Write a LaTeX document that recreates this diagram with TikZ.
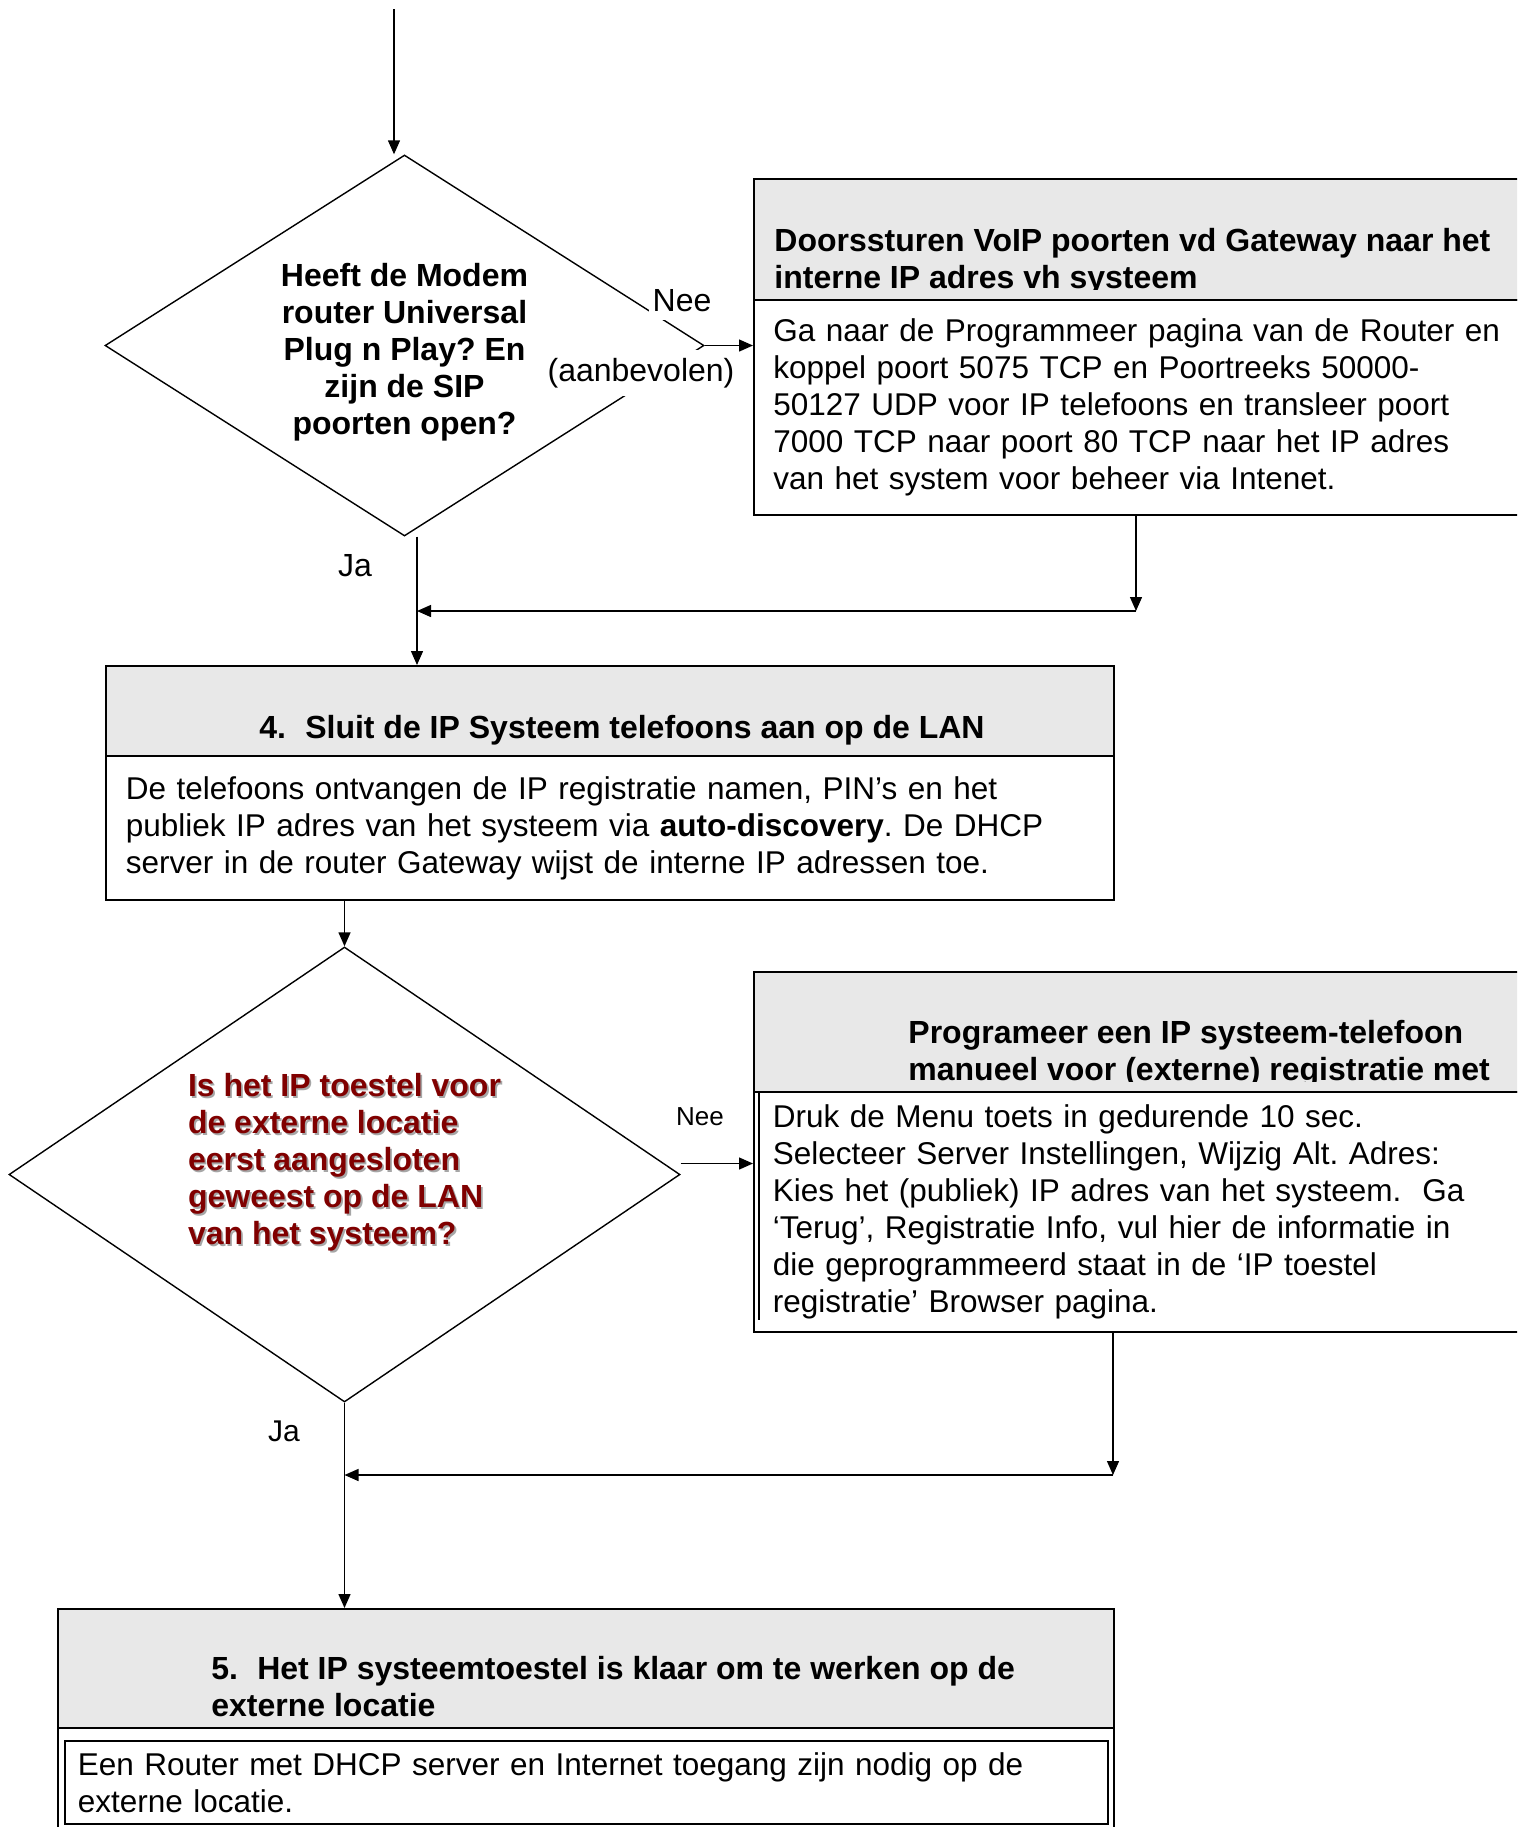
\documentclass[tikz,border=0pt]{standalone}
\usepackage{fontspec}
\setmainfont{Liberation Sans}
\usetikzlibrary{shapes.geometric,arrows.meta}
\definecolor{hdrgray}{gray}{0.91}
\definecolor{qred}{RGB}{128,0,0}
\newcommand{\shd}[1]{\makebox[0pt][l]{\hspace{0.9pt}\raisebox{-0.9pt}{\textcolor{black!35}{#1}}}#1}
\frenchspacing

\begin{document}
\begin{tikzpicture}[x=0.5pt,y=-0.5pt,
    >={Triangle[length=7pt,width=6pt]},
    every node/.style={font=\fontsize{15.75}{18.5}\selectfont},
    hdr/.style={draw,line width=0.9pt,fill=hdrgray,anchor=north west,inner sep=0pt},
    body/.style={draw,line width=0.9pt,anchor=north west,inner ysep=0pt,align=left},
    htext/.style={anchor=north west,inner sep=0pt,align=left,font=\fontsize{16}{18.5}\selectfont\bfseries},
    quest/.style={diamond,draw,line width=0.7pt,inner sep=0pt},
    qtext/.style={inner sep=0pt,font=\fontsize{16}{18.5}\selectfont\bfseries},
    lbl/.style={fill=white,inner xsep=2pt,inner ysep=4pt},
    flow/.style={->,line width=0.7pt}]

      \useasboundingbox (0,0) rectangle (1517,1827);
      \clip (0,0) rectangle (1517,1827);

      % modem / router question
      \coordinate (in) at (394,9);
      \node[quest,minimum width=299.5pt,minimum height=190.5pt] (q1) at (404.5,345.5) {};
      \node[qtext,align=center,yshift=-3.5pt] (q1t) at (q1)
        {Heeft de Modem\\router Universal\\Plug n Play? En\\zijn de SIP\\poorten open?};

      \node[hdr,minimum width=389.5pt,minimum height=60.5pt] (fwdh) at (753,178) {};
      \begin{scope}
        \clip (fwdh.north west) rectangle ([yshift=5.5pt]fwdh.south east);
        \node[htext] (fwdt) at (774,228) {Doorssturen VoIP poorten vd Gateway naar het\\interne IP adres vh systeem};
      \end{scope}
      \node[body,text width=370pt,inner xsep=9.75pt,minimum height=107.5pt] (fwdb) at (753,299)
        {Ga naar de Programmeer pagina van de Router en\\koppel poort 5075 TCP en Poortreeks 50000-\\50127 UDP voor IP telefoons en transleer poort\\7000 TCP naar poort 80 TCP naar het IP adres\\van het system voor beheer via Intenet.};

      % step 4
      \node[hdr,minimum width=504pt,minimum height=45pt] (lanh) at (105,665) {};
      \node[htext] (lant) at (259,715) {4.\hspace{0.6em}Sluit de IP Systeem telefoons aan op de LAN};
      \node[body,text width=484pt,inner xsep=10pt,minimum height=72pt] (lanb) at (105,755)
        {De telefoons ontvangen de IP registratie namen, PIN’s en het\\publiek IP adres van het systeem via \textbf{auto-discovery}. De DHCP\\server in de router Gateway wijst de interne IP adressen toe.};

      % external phone question
      \node[quest,minimum width=335.5pt,minimum height=227.5pt] (q2) at (344.5,1174.5) {};
      \node[qtext,align=left,text=qred,yshift=5.8pt] (q2t) at (q2)
        {\shd{Is het IP toestel voor}\\\shd{de externe locatie}\\\shd{eerst aangesloten}\\\shd{geweest op de LAN}\\\shd{van het systeem?}};

      \node[hdr,minimum width=393.5pt,minimum height=60pt] (progh) at (753,971) {};
      \begin{scope}
        \clip (progh.north west) rectangle ([yshift=5.5pt]progh.south east);
        \node[htext] (progt) at (908,1020) {Programeer een IP systeem-telefoon\\manueel voor (externe) registratie met};
      \end{scope}
      \node[body,text width=374.5pt,inner xsep=9.5pt,minimum height=120pt] (progb) at (753,1091)
        {Druk de Menu toets in gedurende 10 sec.\\Selecteer Server Instellingen, Wijzig Alt. Adres:\\Kies het (publiek) IP adres van het systeem.\ \ Ga\\‘Terug’, Registratie Info, vul hier de informatie in\\die geprogrammeerd staat in de ‘IP toestel\\registratie’ Browser pagina.};
      \draw[line width=0.7pt] ([xshift=3pt]progb.north west) -- ([xshift=3pt,yshift=-114.5pt]progb.north west);

      % step 5
      \node[hdr,minimum width=528pt,minimum height=59.5pt] (readyh) at (57,1608) {};
      \node[htext] (readyt) at (211,1656) {5.\hspace{0.6em}Het IP systeemtoestel is klaar om te werken op de\\externe locatie};
      \node[draw,line width=0.9pt,anchor=north west,minimum width=528pt,minimum height=70pt] (readyb) at (57,1727) {};
      \node[body,text width=508.5pt,inner xsep=6.5pt,minimum height=41.5pt] (readyi) at (64,1740)
        {Een Router met DHCP server en Internet toegang zijn nodig op de\\externe locatie.};

      % connectors
      \draw[flow] (in) -- (in |- q1.north);
      \draw[flow] (q1.east) -- (q1.east -| fwdb.west);
      \coordinate (jA) at (417,611);
      \coordinate (mA) at (1136,611);
      \draw[flow] (mA |- fwdb.south) -- (mA);
      \draw[flow] (mA) -- (jA);
      \draw[flow] (jA |- q1.south) -- (jA |- lanh.north);
      \draw[flow] (q2.north |- lanb.south) -- (q2.north);

      \coordinate (n2) at ([yshift=5.5pt]q2.east);
      \draw[flow] (n2) -- (n2 -| progb.west);
      \coordinate (mB) at (1113,1475);
      \draw[flow] (mB |- progb.south) -- (mB);
      \draw[flow] (mB) -- (mB -| q2.south);
      \draw[flow] (q2.south) -- (q2.south |- readyh.north);

      % labels
      \node[lbl,font=\fontsize{16}{18.5}\selectfont] (nee1) at (682,301) {Nee};
      \node[lbl,font=\fontsize{16}{18.5}\selectfont] (aanb) at (641,373) {(aanbevolen)};
      \node[font=\fontsize{16}{18.5}\selectfont] (ja1) at (355,566) {Ja};
      \node[font=\fontsize{13}{15}\selectfont] (nee2) at (700,1117) {Nee};
      \node[font=\fontsize{15}{17}\selectfont] (ja2) at (284,1431) {Ja};

\end{tikzpicture}
\end{document}
